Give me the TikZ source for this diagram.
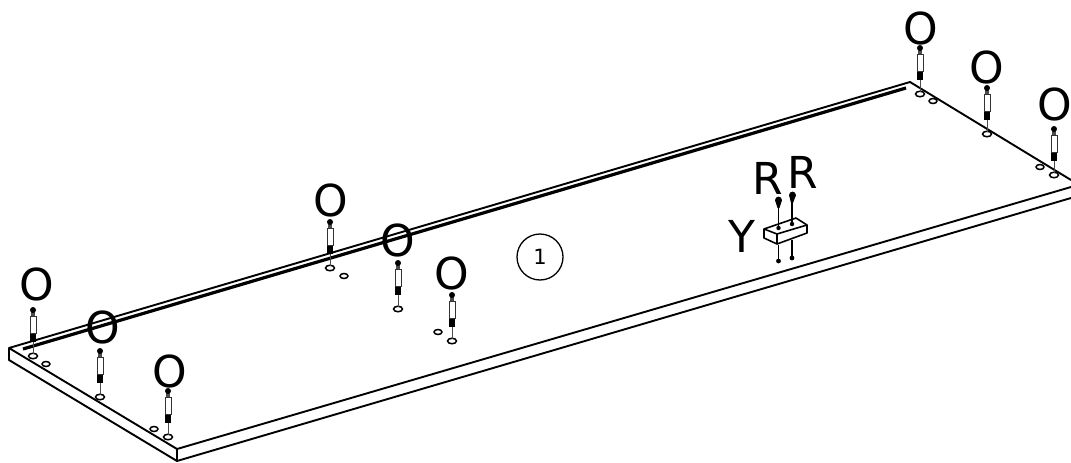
\documentclass[tikz,border=0pt]{standalone}
\usepackage{fontspec}
\setmainfont{DejaVu Sans}
\usetikzlibrary{shapes.geometric}
\tikzset{
    partlabel/.style={inner sep=0pt,font=\fontsize{44}{44}\selectfont},
    hole/.style={draw,line width=1.5pt,fill=white,ellipse,inner sep=0pt,minimum width=9pt,minimum height=5.5pt},
    edgeline/.style={line width=1.9pt,line join=round}
}
\begin{document}
\begin{tikzpicture}[x=1pt,y=-1pt]
    \useasboundingbox (0,0) rectangle (1071,463);
    % panel
    \draw[edgeline] (1071,180) -- (910,82) -- (9,348) -- (177,449) -- (1071,187);
    \draw[edgeline] (9,348) -- (9,360) -- (177,461) -- (1071,198);
    \draw[edgeline] (177,449) -- (177,461);
    % groove
    \draw[line width=3.2pt] (23,349) -- (906,88);
    % small holes
    \foreach \x/\y/\name in {46/364/a,154/429/b,344/276/c,438/332/d,933/101/e,1040/167/f}
        \node[hole,minimum width=8pt,minimum height=5pt] (small\name) at (\x,\y) {};
    % dowels
    \foreach \x/\y/\name in {33/356/a,100/397/b,168/437/c,330/268/d,398/309/e,452/341/f,920/94/g,987/134/h,1054/175/i}{
        \node[hole] (hole\name) at (\x,\y) {};
        \draw[line width=.9pt,black!70] (\x,\y-2) -- (\x,\y-16);
        \fill (\x-3.2,\y-14) rectangle (\x+3.2,\y-23);
        \draw[line width=1pt,black!80,fill=white] (\x-3,\y-23) rectangle (\x+3,\y-40);
        \fill[black!70] (\x-1.6,\y-40) rectangle (\x+1.6,\y-44);
        \fill (\x,\y-46) circle (3pt);
    }
    % letters
    \foreach \x/\y/\name in {37/284/a,103/327/b,170/371/c,331/200/d,398/240/e,452/273/f,921/28/g,987/67/h,1055/104/i}
        \node[partlabel] (label\name) at (\x,\y) {O};
    \node[partlabel] (screwa) at (768,178) {R};
    \node[partlabel] (screwb) at (803,172) {R};
    \node[partlabel] (blocklabel) at (742,236) {Y};
    \node[circle,draw,line width=1.3pt,minimum size=46pt,inner sep=0pt,font=\fontsize{21}{21}\selectfont] (partnum) at (540,257) {1};
    % block with screws
    \draw[line width=1.3pt] (778.5,245) -- (778.5,261);
    \draw[line width=1.3pt] (792,240) -- (792,258);
    \fill (778.5,261) circle (2.4pt);
    \fill (792,258) circle (2.4pt);
    \draw[line width=1.6pt,fill=white,line join=round] (764,229) -- (796,218) -- (807,225) -- (807,233) -- (777,244) -- (764,238) -- cycle;
    \draw[line width=1.6pt,line join=round] (764,229) -- (777,234) -- (807,225) (777,234) -- (777,244);
    \draw[line width=1.3pt] (778.5,202) -- (778.5,228);
    \draw[line width=1.3pt] (792,197) -- (792,224);
    \fill (775,200) -- (782,200) -- (779.5,208) -- (777.5,208) -- cycle;
    \fill (789,195) -- (796,195) -- (793,203) -- (791,203) -- cycle;
    \fill (778.5,200) circle (3.4pt);
    \fill (792.5,195) circle (3.4pt);
    \fill (778.5,228) circle (2.2pt);
    \fill (792,224) circle (2.2pt);
\end{tikzpicture}
\end{document}
